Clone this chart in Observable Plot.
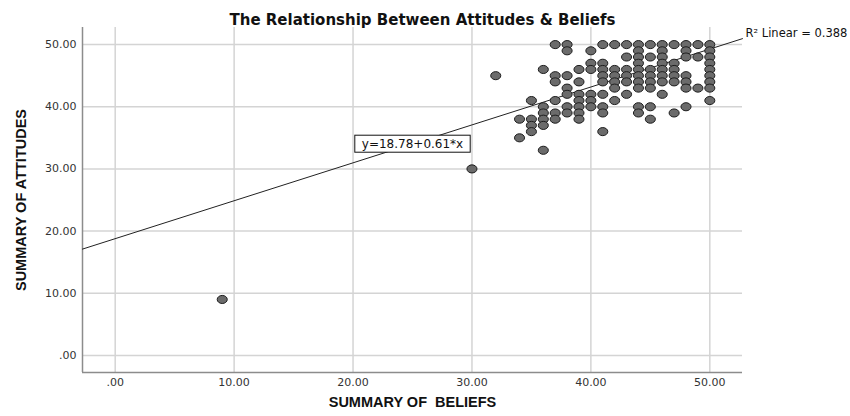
<!DOCTYPE html>
<html>
<head>
<meta charset="utf-8">
<script src="https://cdn.jsdelivr.net/npm/d3@7"></script>
<script src="https://cdn.jsdelivr.net/npm/@observablehq/plot@0.6"></script>
<style>
  html, body { margin: 0; padding: 0; background: #fff; }
  #chart svg { display: block; }
</style>
</head>
<body>
<div id="chart"></div>
<script>
// ---- Data ----
const titleText = "The Relationship Between Attitudes & Beliefs";
const xLabel = "SUMMARY OF  BELIEFS";
const yLabel = "SUMMARY OF ATTITUDES";
const tickValues = [0, 10, 20, 30, 40, 50];
const axisDomain = [-2.75, 52.75];

// Beliefs score (x) for each respondent
const beliefs = [
  9, 30, 32,
  34, 34,
  35, 35, 35, 35,
  36, 36, 36, 36, 36, 36,
  37, 37, 37, 37, 37, 37,
  38, 38, 38, 38, 38, 38, 38,
  39, 39, 39, 39, 39, 39, 39,
  40, 40, 40, 40, 40, 40,
  41, 41, 41, 41, 41, 41, 41, 41, 41,
  42, 42, 42, 42, 42, 42,
  43, 43, 43, 43, 43, 43,
  44, 44, 44, 44, 44, 44, 44, 44, 44, 44,
  45, 45, 45, 45, 45, 45, 45, 45,
  46, 46, 46, 46, 46, 46, 46, 46,
  47, 47, 47, 47, 47, 47,
  48, 48, 48, 48, 48, 48, 48,
  49, 49, 49,
  50, 50, 50, 50, 50, 50, 50, 50, 50
];
// Attitudes score (y) for each respondent
const attitudes = [
  9, 30, 45,
  38, 35,
  41, 38, 37, 36,
  46, 40, 39, 38, 37, 33,
  50, 45, 44, 41, 39, 38,
  50, 49, 45, 43, 42, 40, 39,
  46, 44, 42, 41, 40, 39, 38,
  49, 47, 46, 42, 41, 40,
  50, 47, 46, 45, 44, 42, 40, 39, 36,
  50, 46, 45, 44, 43, 41,
  50, 48, 46, 45, 44, 42,
  50, 49, 48, 47, 46, 45, 44, 43, 40, 39,
  50, 48, 46, 45, 44, 43, 40, 38,
  50, 49, 48, 47, 46, 45, 44, 42,
  50, 47, 46, 45, 44, 39,
  50, 49, 48, 45, 44, 43, 40,
  50, 48, 43,
  50, 49, 48, 47, 46, 45, 44, 43, 41
];
// Fit line shown on the chart
const intercept = 18.78;
const slope = 0.61;
const rSquared = 0.388;

// ---- Build tables ----
const points = beliefs.map((b, i) => ({beliefs: b, attitudes: attitudes[i]}));
const fitLine = axisDomain.map(x => ({x, y: intercept + slope * x}));
const eqText = `y=${intercept.toFixed(2)}+${slope.toFixed(2)}*x`;
const midX = (axisDomain[0] + axisDomain[1]) / 2;
const eqLabel = [{x: midX, y: intercept + slope * midX, text: eqText}];
const r2Label = [{x: axisDomain[1], y: intercept + slope * axisDomain[1], text: `R² Linear = ${rSquared}`}];

const fmt = d => d === 0 ? ".00" : d.toFixed(2);

// ellipse-shaped marker like the original
const ellipse = {
  draw(context, size) {
    const r = Math.sqrt(size / Math.PI);
    const rx = r * 1.12, ry = r * 0.9, k = 0.5523;
    context.moveTo(rx, 0);
    context.bezierCurveTo(rx, ry * k, rx * k, ry, 0, ry);
    context.bezierCurveTo(-rx * k, ry, -rx, ry * k, -rx, 0);
    context.bezierCurveTo(-rx, -ry * k, -rx * k, -ry, 0, -ry);
    context.bezierCurveTo(rx * k, -ry, rx, -ry * k, rx, 0);
    context.closePath();
  }
};

const tickFont = "DejaVu Sans, sans-serif";
const labelFont = "Liberation Sans Narrow, Arial Narrow, sans-serif";

const chart = Plot.plot({
  width: 850,
  height: 416,
  marginLeft: 82,
  marginRight: 108,
  marginTop: 27,
  marginBottom: 44,
  style: {background: "#fff", fontFamily: tickFont},
  x: {domain: axisDomain},
  y: {domain: axisDomain},
  marks: [
    Plot.gridX(tickValues, {stroke: "#d4d4d4", strokeOpacity: 1, strokeWidth: 1.5}),
    Plot.gridY(tickValues, {stroke: "#d4d4d4", strokeOpacity: 1, strokeWidth: 1.5}),
    Plot.ruleX([axisDomain[0]], {stroke: "#8c8c8c", strokeWidth: 1.5}),
    Plot.ruleY([axisDomain[0]], {stroke: "#8c8c8c", strokeWidth: 1.5}),
    Plot.axisX(tickValues, {tickFormat: fmt, tickSize: 0, tickPadding: 6, fontSize: 11, fill: "#333", label: null}),
    Plot.axisY(tickValues, {tickFormat: fmt, tickSize: 0, tickPadding: 6, fontSize: 11, fill: "#333", label: null}),
    Plot.line(fitLine, {x: "x", y: "y", stroke: "#222", strokeWidth: 1, clip: false}),
    Plot.dot(points, {x: "beliefs", y: "attitudes", r: 4.5, symbol: ellipse, fill: "#6b6b6b", stroke: "#1e1e1e", strokeWidth: 1}),
    Plot.text(eqLabel, {x: "x", y: "y", text: "text", fontSize: 12, fill: "#111", fontFamily: tickFont}),
    Plot.text(r2Label, {x: "x", y: "y", text: "text", textAnchor: "start", dx: 3, dy: -5, fontSize: 11.5, fill: "#111", fontFamily: tickFont}),
    Plot.text([titleText], {frameAnchor: "top", dy: -13, dx: 10, fontSize: 15, fontWeight: "bold", fill: "#111", fontFamily: "DejaVu Sans, sans-serif"}),
    Plot.text([xLabel], {frameAnchor: "bottom", dy: 34, fontSize: 14.5, fontWeight: "bold", fill: "#111", fontFamily: labelFont}),
    Plot.text([yLabel], {frameAnchor: "left", textAnchor: "middle", dx: -61, rotate: -90, fontSize: 14.5, fontWeight: "bold", fill: "#111", fontFamily: labelFont})
  ]
});

document.getElementById("chart").append(chart);

// White box with black border behind the equation label
const svg = chart;
const svgRect = svg.getBoundingClientRect();
for (const t of svg.querySelectorAll("text")) {
  if (t.textContent === eqText) {
    const b = t.getBoundingClientRect();
    const rect = document.createElementNS("http://www.w3.org/2000/svg", "rect");
    const padX = 7, padY = 1.5;
    rect.setAttribute("x", (b.left - svgRect.left - padX).toFixed(1));
    rect.setAttribute("y", (b.top - svgRect.top - padY).toFixed(1));
    rect.setAttribute("width", (b.width + 2 * padX).toFixed(1));
    rect.setAttribute("height", (b.height + 2 * padY).toFixed(1));
    rect.setAttribute("fill", "#fff");
    rect.setAttribute("stroke", "#111");
    rect.setAttribute("stroke-width", "1");
    const g = t.parentNode;
    g.parentNode.insertBefore(rect, g);
  }
}
</script>
</body>
</html>
